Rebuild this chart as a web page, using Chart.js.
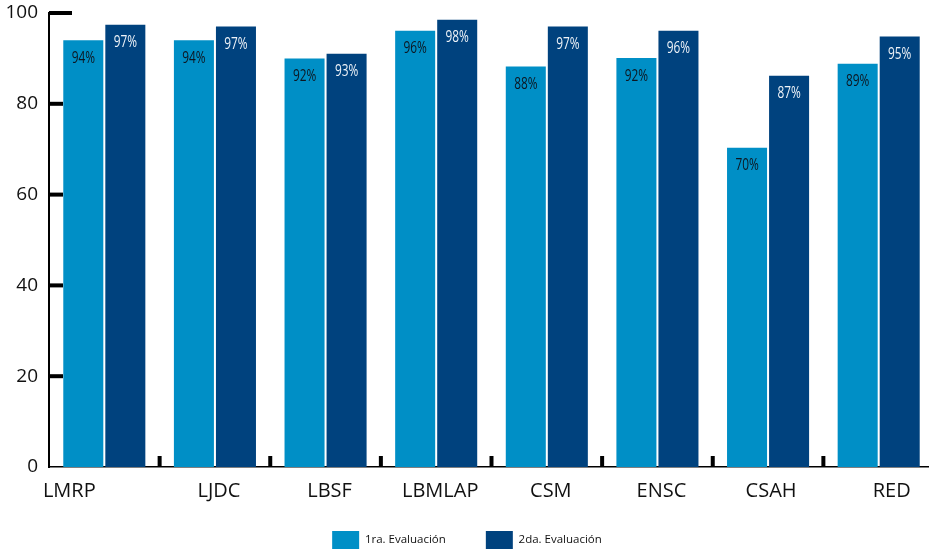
<!DOCTYPE html>
<html>
<head>
<meta charset="utf-8">
<script src="https://cdn.jsdelivr.net/npm/chart.js@4"></script>
<style>
  html, body { margin: 0; padding: 0; background: #fff; overflow: hidden; }
  #wrap { width: 929px; height: 549px; overflow: hidden; }
</style>
</head>
<body>
<div id="wrap"><canvas id="bar_chart" width="934" height="559"></canvas></div>
<script>
const categories = ['LMRP', 'LJDC', 'LBSF', 'LBMLAP', 'CSM', 'ENSC', 'CSAH', 'RED'];
const series_names = ['1ra. Evaluación', '2da. Evaluación'];
// bar heights as drawn in the picture
const first_eval = [94, 94, 90, 96.1, 88.2, 90.1, 70.3, 88.8];
const second_eval = [97.4, 97, 91, 98.5, 97, 96.1, 86.2, 94.8];
// printed labels on the bars
const first_labels = ['94%', '94%', '92%', '96%', '88%', '92%', '70%', '89%'];
const second_labels = ['97%', '97%', '93%', '98%', '97%', '96%', '87%', '95%'];
const y_ticks = [0, 20, 40, 60, 80, 100];

const LIGHT = '#008fc6';
const DARK = '#00427e';
const BASE_FONT = '"Open Sans", "Noto Sans", sans-serif';

// little nudges for the category labels, like the original layout
const label_nudge = [-35, 4, 4, 4, 4, 4, 3, 13];

const marksPlugin = {
  id: 'marks',
  afterDatasetsDraw(chart) {
    const ctx = chart.ctx;
    const area = chart.chartArea;
    const x = chart.scales.x;
    const y = chart.scales.y;
    ctx.save();
    ctx.fillStyle = '#000';
    // short thick ticks on the y axis, inside the plot
    y.ticks.forEach(t => {
      if (t.value === 0) return;
      const py = y.getPixelForValue(t.value);
      const len = t.value === 100 ? 23 : 14;
      ctx.fillRect(area.left, py - 2, len, 4);
    });
    // separators between categories
    for (let i = 1; i < categories.length; i++) {
      const px = (x.getPixelForValue(i - 1) + x.getPixelForValue(i)) / 2;
      ctx.fillRect(px - 2, area.bottom - 11, 4, 11);
    }
    // value labels inside the bars (condensed by squeezing the text)
    const bar_labels = [first_labels, second_labels];
    const text_colors = ['#0d1620', '#eef3f8'];
    const squeeze = 0.74;
    ctx.font = '16px ' + BASE_FONT;
    ctx.textAlign = 'center';
    ctx.textBaseline = 'middle';
    chart.data.datasets.forEach((ds, di) => {
      chart.getDatasetMeta(di).data.forEach((bar, i) => {
        ctx.save();
        ctx.translate(bar.x, bar.y + 18);
        ctx.scale(squeeze, 1);
        ctx.fillStyle = text_colors[di];
        ctx.fillText(bar_labels[di][i], 0, 0);
        ctx.restore();
      });
    });
    // category labels under the axis
    ctx.font = '20px ' + BASE_FONT;
    ctx.fillStyle = '#111';
    categories.forEach((c, i) => {
      ctx.fillText(c, x.getPixelForValue(i) + label_nudge[i], area.bottom + 24);
    });
    ctx.restore();
  }
};

const ctx_bar = document.getElementById('bar_chart');

const barChart = new Chart(ctx_bar, {
  type: 'bar',
  data: {
    labels: categories,
    datasets: [{
      label: series_names[0],
      data: first_eval,
      backgroundColor: LIGHT,
      borderWidth: 0
    }, {
      label: series_names[1],
      data: second_eval,
      backgroundColor: DARK,
      borderWidth: 0
    }]
  },
  options: {
    responsive: false,
    animation: false,
    devicePixelRatio: 1,
    categoryPercentage: 0.76,
    barPercentage: 0.952,
    layout: { padding: { top: 13, left: 0, right: 0, bottom: 0 } },
    plugins: {
      tooltip: { enabled: false },
      legend: {
        position: 'bottom',
        labels: {
          boxWidth: 27,
          boxHeight: 18,
          padding: 40,
          color: '#111',
          font: { size: 11.5, family: BASE_FONT }
        }
      }
    },
    scales: {
      x: {
        grid: { display: false, drawTicks: false },
        border: { display: true, color: '#000', width: 1.5 },
        ticks: { display: false },
        afterFit(scale) { scale.height = 24; }
      },
      y: {
        min: 0,
        max: 100,
        afterBuildTicks(scale) { scale.ticks = y_ticks.map(v => ({ value: v })); },
        grid: { display: false, drawTicks: false },
        border: { display: true, color: '#000', width: 2 },
        ticks: {
          padding: 11,
          color: '#111',
          font: { size: 19, family: BASE_FONT }
        },
        afterFit(scale) {
          scale.width = 49;
          scale.paddingTop = 0;
        }
      }
    }
  },
  plugins: [marksPlugin]
});
</script>
</body>
</html>
